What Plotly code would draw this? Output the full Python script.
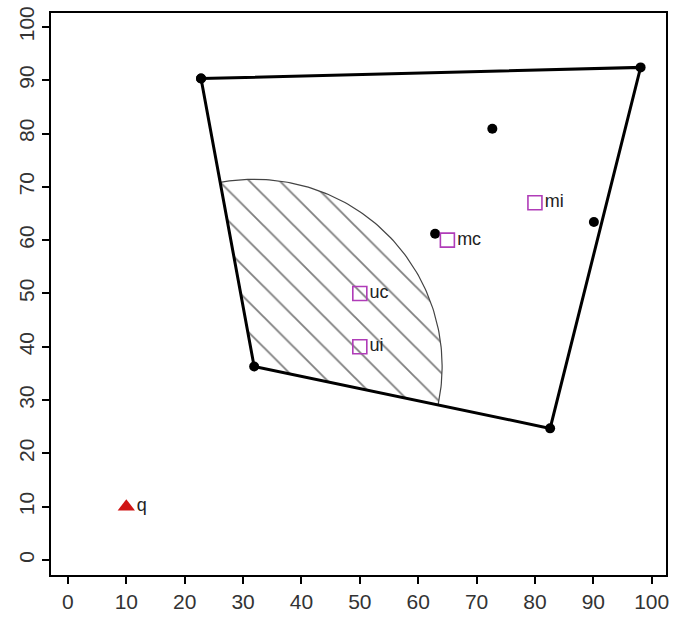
import math
import plotly.graph_objects as go

# ---- data ----
hull_x = [22.8, 98.1, 82.6, 31.9]
hull_y = [90.3, 92.4, 24.7, 36.3]
inner_x = [72.7, 90.1, 62.9]
inner_y = [80.9, 63.4, 61.2]
sq_labels = ["uc", "ui", "mc", "mi"]
sq_x = [50, 50, 65, 80]
sq_y = [50, 40, 60, 67]
q_label = ["q"]
q_x = [10]
q_y = [10]
circle_radius_x = 32.2          # radius in x-units (circle drawn round on screen)
x_ticks = [0, 10, 20, 30, 40, 50, 60, 70, 80, 90, 100]
y_ticks = [0, 10, 20, 30, 40, 50, 60, 70, 80, 90, 100]

# ---- layout geometry ----
W, H = 675, 619
ml, mr, mt, mb = 51, 6, 11, 41
xr = [-2.9, 102.45]
yr = [-2.8, 102.6]
pw, ph = W - ml - mr, H - mt - mb
sx = pw / (xr[1] - xr[0])   # px per x unit
sy = ph / (yr[1] - yr[0])   # px per y unit

# circle centred at the lower-left hull vertex, clipped by the hull edges there
cx, cy = hull_x[3], hull_y[3]
r_px = circle_radius_x * sx
a_bot = math.atan2((hull_y[2] - cy) * sy, (hull_x[2] - cx) * sx)
a_left = math.atan2((hull_y[0] - cy) * sy, (hull_x[0] - cx) * sx)
n = 120
arc_x, arc_y = [], []
for i in range(n + 1):
    a = a_bot + (a_left - a_bot) * i / n
    arc_x.append(cx + r_px * math.cos(a) / sx)
    arc_y.append(cy + r_px * math.sin(a) / sy)

fig = go.Figure()

# hatched region
fig.add_trace(go.Scatter(
    x=[cx] + arc_x + [cx], y=[cy] + arc_y + [cy],
    mode="lines", fill="toself", line=dict(width=0, color="rgba(0,0,0,0)"),
    fillcolor="rgba(0,0,0,0)",
    fillpattern=dict(shape="\\", size=21.5, solidity=0.085, fgcolor="#000000",
                     bgcolor="rgba(0,0,0,0)"),
    hoverinfo="skip", showlegend=False))

# arc outline
fig.add_trace(go.Scatter(x=arc_x, y=arc_y, mode="lines",
                         line=dict(color="#444444", width=1.2),
                         hoverinfo="skip", showlegend=False))

# hull polygon
fig.add_trace(go.Scatter(x=hull_x + [hull_x[0]], y=hull_y + [hull_y[0]],
                         mode="lines+markers",
                         line=dict(color="black", width=3),
                         marker=dict(color="black", size=10),
                         showlegend=False))

# inner black points
fig.add_trace(go.Scatter(x=inner_x, y=inner_y, mode="markers",
                         marker=dict(color="black", size=10),
                         showlegend=False))

# purple squares with labels
fig.add_trace(go.Scatter(x=sq_x, y=sq_y, mode="markers+text", text=sq_labels,
                         textposition="middle right",
                         textfont=dict(family="Liberation Sans", size=18, color="#222222"),
                         marker=dict(symbol="square-open", size=14, color="#B03CB8",
                                     line=dict(width=1.6, color="#B03CB8")),
                         showlegend=False))

# red triangle q
fig.add_trace(go.Scatter(x=q_x, y=q_y, mode="markers+text", text=q_label,
                         textposition="middle right",
                         textfont=dict(family="Liberation Sans", size=18, color="#222222"),
                         marker=dict(symbol="triangle-up", size=15, color="#D01515"),
                         showlegend=False))

axis_common = dict(showgrid=False, zeroline=False, showline=True, mirror=True,
                   linecolor="black", linewidth=1.5, ticks="outside", ticklen=7,
                   tickwidth=1.5, tickcolor="black",
                   tickfont=dict(family="Liberation Sans", size=21, color="#333333"))

fig.update_layout(
    width=W, height=H,
    margin=dict(l=ml, r=mr, t=mt, b=mb),
    paper_bgcolor="white", plot_bgcolor="white",
    xaxis=dict(range=xr, tickvals=x_ticks, **axis_common),
    yaxis=dict(range=yr, tickvals=y_ticks, tickangle=-90, **axis_common),
    showlegend=False,
)

fig.write_html("out.html")
